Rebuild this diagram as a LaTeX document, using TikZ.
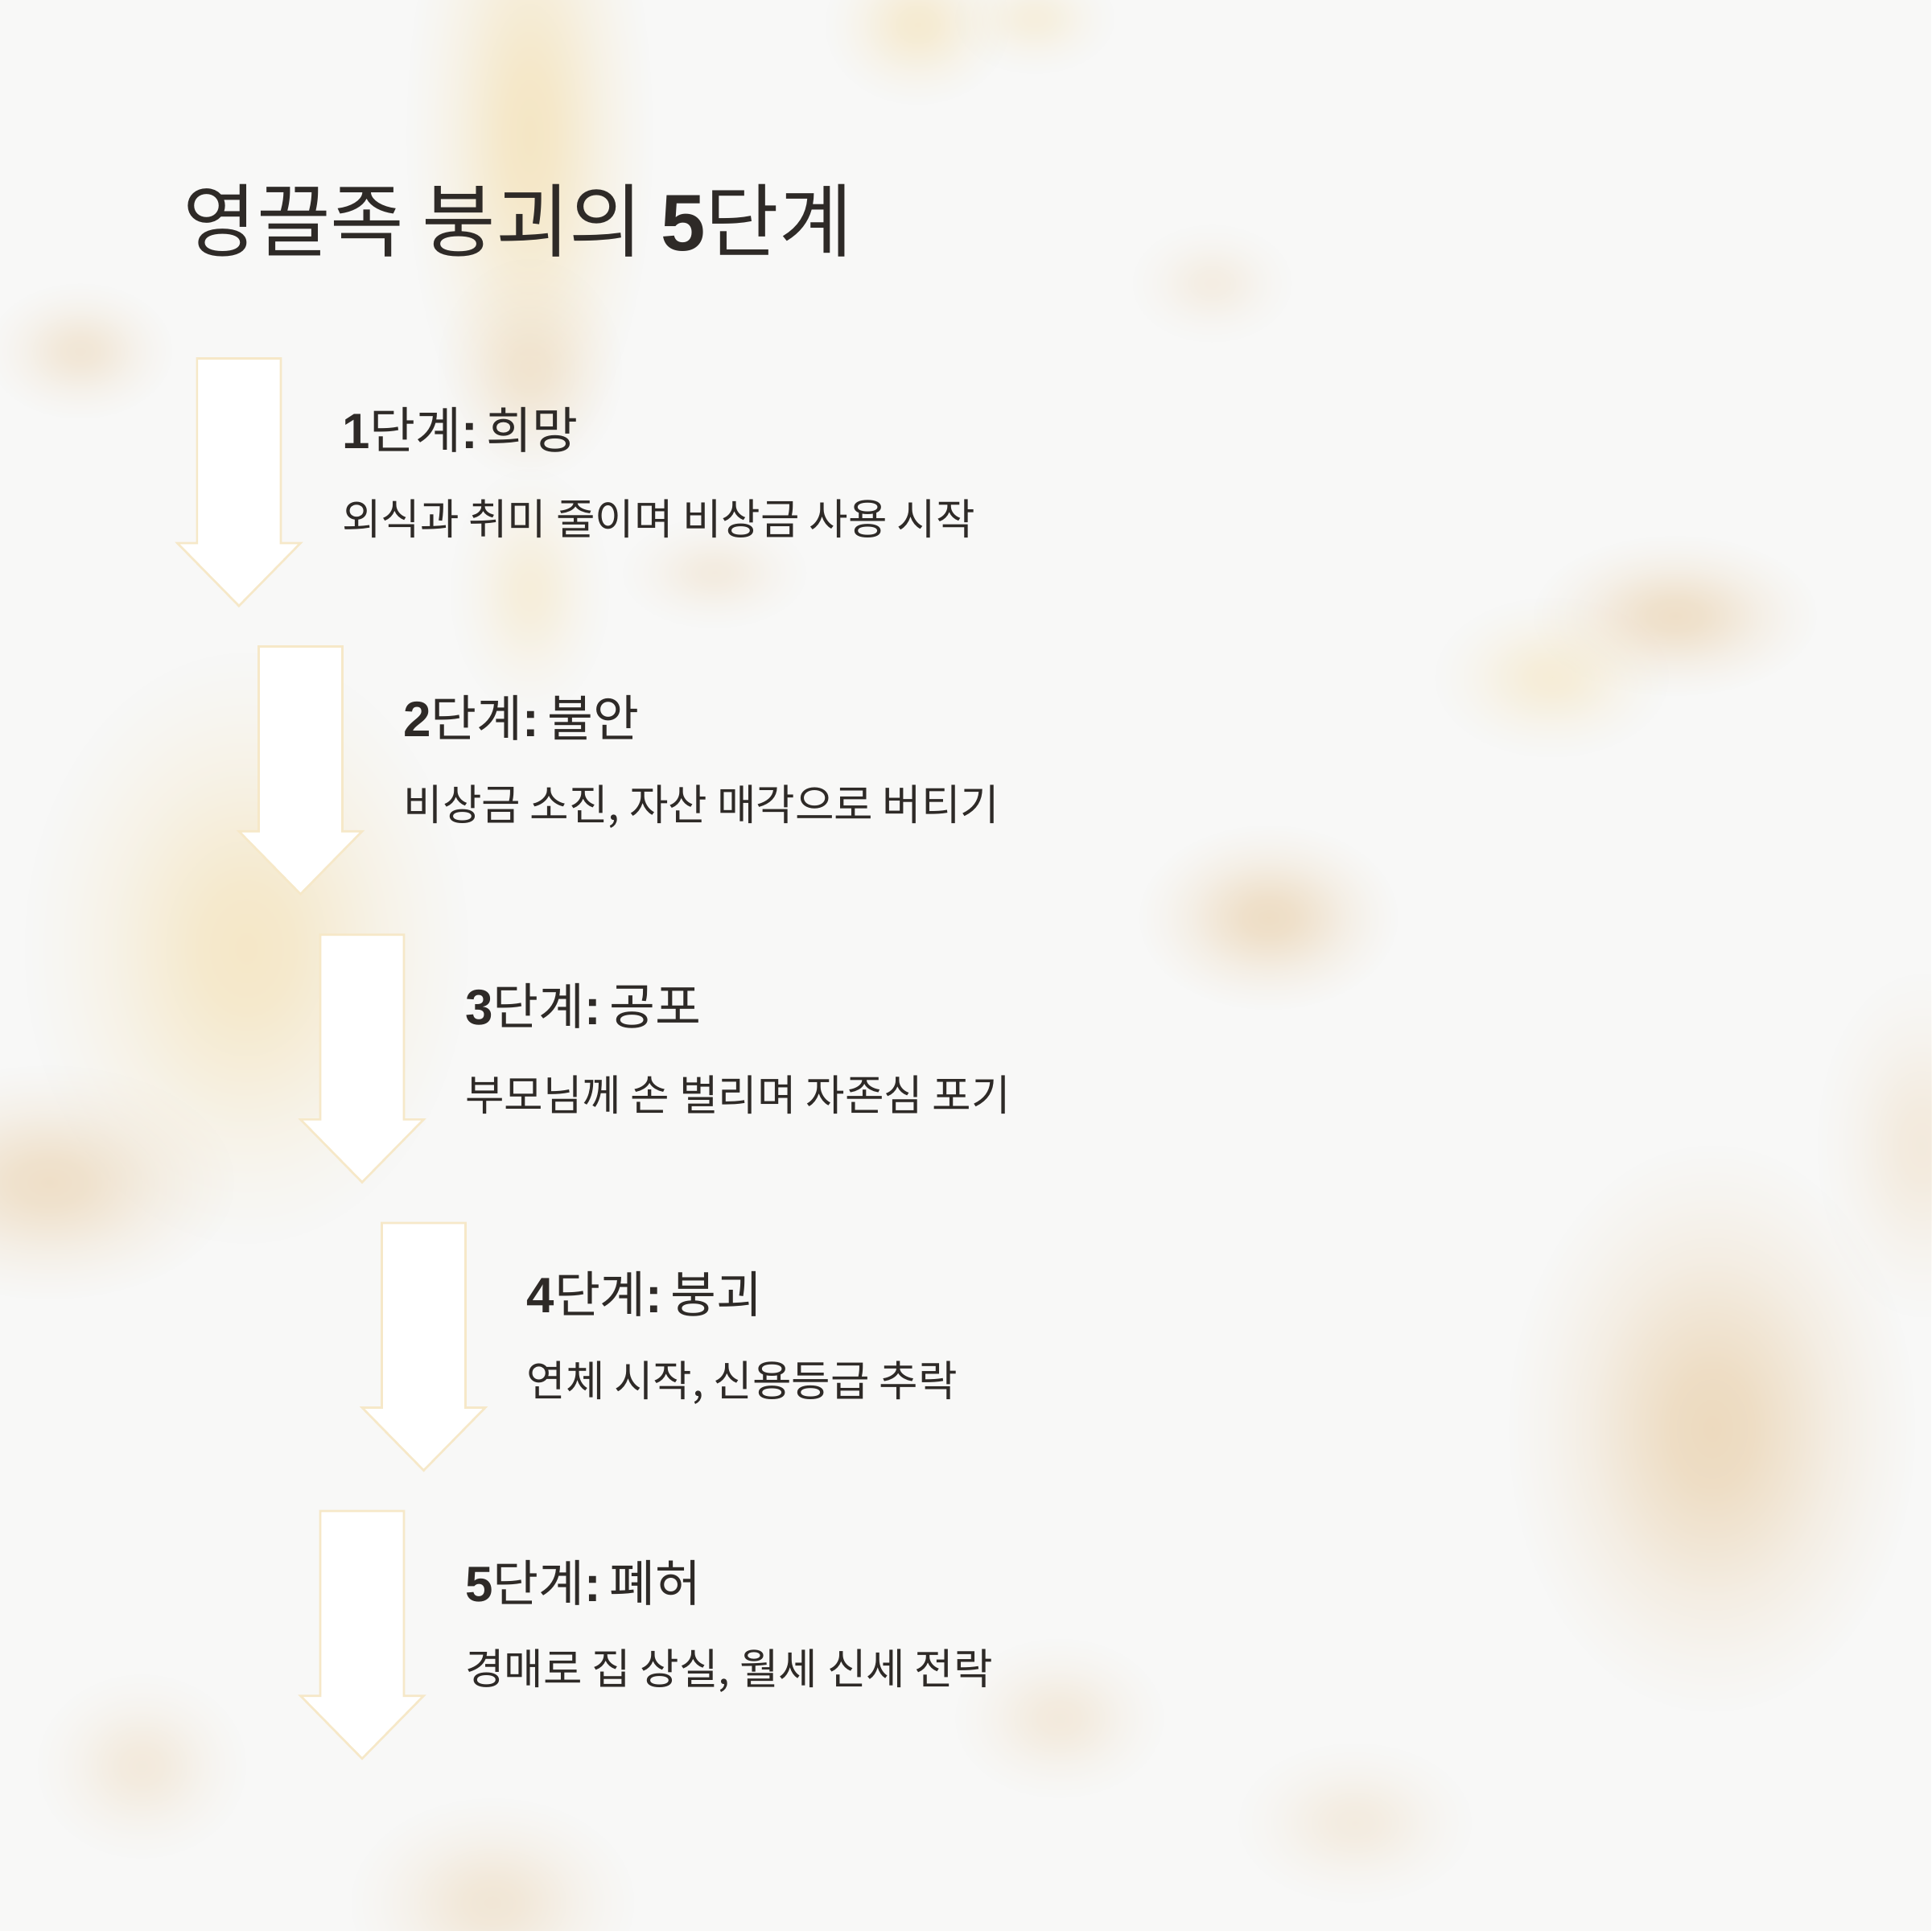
\documentclass[tikz,border=0pt]{standalone}
\usepackage{fontspec}
\setmainfont{Noto Sans CJK KR}
\newfontfamily\numfont{Liberation Sans}
\usetikzlibrary{fadings}

\definecolor{ink}{HTML}{2E2A27}
\definecolor{paper}{HTML}{F8F8F7}
\definecolor{tan}{HTML}{EBD5B5}
\definecolor{honey}{HTML}{F4E2B8}
\definecolor{rim}{HTML}{F6E8C8}

\pgfdeclareradialshading{softblob}{\pgfpointorigin}{color(0bp)=(white); color(5bp)=(white!89!black);
    color(10bp)=(white!62!black); color(15bp)=(white!34!black); color(20bp)=(white!14!black);
    color(25bp)=(black); color(50bp)=(black)}
\pgfdeclarefading{blur}{\pgfuseshading{softblob}}

\newcommand{\num}[1]{{\numfont\bfseries #1}}

\begin{document}
\begin{tikzpicture}[x=0.1mm, y=-0.1mm,
    txt/.style={anchor=west, inner sep=0pt, text=ink},
    titletxt/.style={txt, font=\fontsize{18.5}{22}\selectfont},
    headtxt/.style={txt, font=\fontsize{11.5}{14}\selectfont},
    desctxt/.style={txt, font=\fontsize{9.8}{12}\selectfont},
    stagearrow/.style={draw=rim, line width=0.5pt, fill=white},
    glow/.style={path fading=blur}]
    \fill[paper] (0,0) rectangle (1568,1568);
    \useasboundingbox (0,0) rectangle (1568,1568);

    \fill[glow, honey, opacity=.8] (430,110) ellipse (100 and 270);
    \fill[glow, tan, opacity=.5] (430,300) ellipse (75 and 90);
    \fill[glow, honey, opacity=.45] (430,480) ellipse (65 and 100);
    \fill[glow, honey, opacity=.75] (200,770) ellipse (180 and 240);
    \fill[glow, tan, opacity=.7] (40,960) ellipse (150 and 95);
    \fill[glow, tan, opacity=.5] (65,285) ellipse (75 and 55);
    \fill[glow, honey, opacity=.6] (745,20) ellipse (75 and 65);
    \fill[glow, honey, opacity=.4] (840,15) ellipse (65 and 45);
    \fill[glow, tan, opacity=.35] (580,465) ellipse (75 and 45);
    \fill[glow, tan, opacity=.75] (1030,745) ellipse (105 and 75);
    \fill[glow, tan, opacity=.7] (1360,500) ellipse (115 and 65);
    \fill[glow, honey, opacity=.5] (1260,550) ellipse (95 and 65);
    \fill[glow, tan, opacity=.85] (1390,1160) ellipse (165 and 230);
    \fill[glow, tan, opacity=.4] (1560,930) ellipse (85 and 140);
    \fill[glow, tan, opacity=.4] (860,1395) ellipse (85 and 65);
    \fill[glow, tan, opacity=.4] (115,1434) ellipse (85 and 75);
    \fill[glow, tan, opacity=.5] (400,1545) ellipse (115 and 85);
    \fill[glow, tan, opacity=.35] (1100,1480) ellipse (95 and 65);
    \fill[glow, tan, opacity=.3] (984,230) ellipse (65 and 48);

    \node[titletxt] (title) at (148,179) {영끌족 붕괴의 \num{5}단계};

    \foreach \i/\dx/\head/\desc in {
        1/0/희망/{외식과 취미 줄이며 비상금 사용 시작},
        2/50/불안/{비상금 소진, 자산 매각으로 버티기},
        3/100/공포/{부모님께 손 벌리며 자존심 포기},
        4/150/붕괴/{연체 시작, 신용등급 추락},
        5/100/폐허/{경매로 집 상실, 월세 신세 전락}} {
        \coordinate (top\i) at (194+\dx, 57+234*\i);
        \draw[stagearrow] (top\i) ++(-34,0) -- ++(68,0) -- ++(0,150) -- ++(16,0)
            -- ++(-50,51) -- ++(-50,-51) -- ++(16,0) -- cycle;
        \node[headtxt] (head\i) at (277+\dx, 115+234*\i) {\num{\i}단계\num{:}\,\head};
        \node[desctxt] (desc\i) at (277+\dx, 187+234*\i) {\desc};
    }
\end{tikzpicture}
\end{document}
